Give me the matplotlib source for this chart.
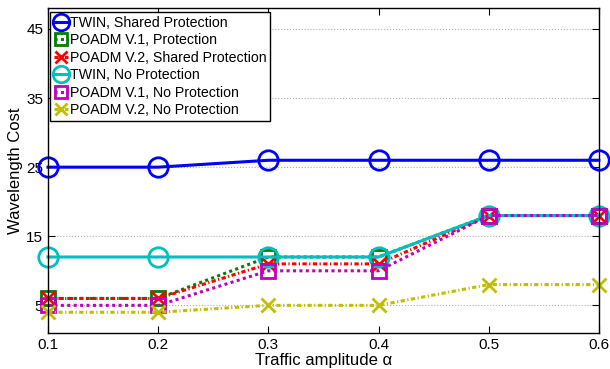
import matplotlib
matplotlib.use("Agg")
import matplotlib.pyplot as plt

plt.rcParams['font.family'] = ['Liberation Sans', 'DejaVu Sans']

x = [0.1, 0.2, 0.3, 0.4, 0.5, 0.6]
twin_shared = [25, 25, 26, 26, 26, 26]
poadm1_prot = [6, 6, 12, 12, 18, 18]
poadm2_shared = [6, 6, 11, 11, 18, 18]
twin_noprot = [12, 12, 12, 12, 18, 18]
poadm1_noprot = [5, 5, 10, 10, 18, 18]
poadm2_noprot = [4, 4, 5, 5, 8, 8]

labels = ["TWIN, Shared Protection", "POADM V.1, Protection", "POADM V.2, Shared Protection",
          "TWIN, No Protection", "POADM V.1, No Protection", "POADM V.2, No Protection"]
yticks = [5, 15, 25, 35, 45]
xticks = [0.1, 0.2, 0.3, 0.4, 0.5, 0.6]

dotted = (0, (1.0, 1.1))
dashdot = (0, (1.4, 0.8, 0.4, 0.8))

fig = plt.figure(figsize=(6.1, 3.69), dpi=100)
ax = fig.add_axes([0.0787, 0.0976, 0.903, 0.880])

series = [
    (twin_shared, 'blue', '-', 'o', 14),
    (poadm1_prot, (0, 0.5, 0), dotted, 's', 10),
    (poadm2_shared, 'red', dashdot, 'x', 10),
    (twin_noprot, (0, 0.75, 0.75), '-', 'o', 14),
    (poadm1_noprot, (0.75, 0, 0.75), dotted, 's', 10),
    (poadm2_noprot, (0.75, 0.75, 0), dashdot, 'x', 10),
]
for (y, c, ls, m, ms), lab in zip(series, labels):
    ax.plot(x, y, color=c, linestyle=ls, marker=m, markersize=ms, markerfacecolor='none',
            markeredgewidth=2, linewidth=2.2, label=lab, clip_on=False)

ax.set_xlim(0.1, 0.6)
ax.set_ylim(1, 48)
ax.set_xticks(xticks)
ax.set_xticklabels([f"{v:.1f}" for v in xticks])
ax.set_yticks(yticks)
ax.yaxis.grid(True, linestyle=':', color='#b0b0b0', linewidth=0.8)
ax.tick_params(direction='in', top=True, right=True, labelsize=11, length=5)
for s in ax.spines.values():
    s.set_linewidth(1.0)
ax.set_xlabel("Traffic amplitude α", fontsize=12, labelpad=1)
ax.set_ylabel("Wavelength Cost", fontsize=12, labelpad=2)

leg = ax.legend(loc='upper left', bbox_to_anchor=(0.0036, 0.988), fontsize=10.2, handlelength=1.0,
                handletextpad=0.15, borderpad=0.25, labelspacing=0.25, borderaxespad=0.0,
                fancybox=False, framealpha=1, edgecolor='black', markerscale=0.85)
leg.get_frame().set_linewidth(1.0)

fig.savefig("out.png", dpi=100)
